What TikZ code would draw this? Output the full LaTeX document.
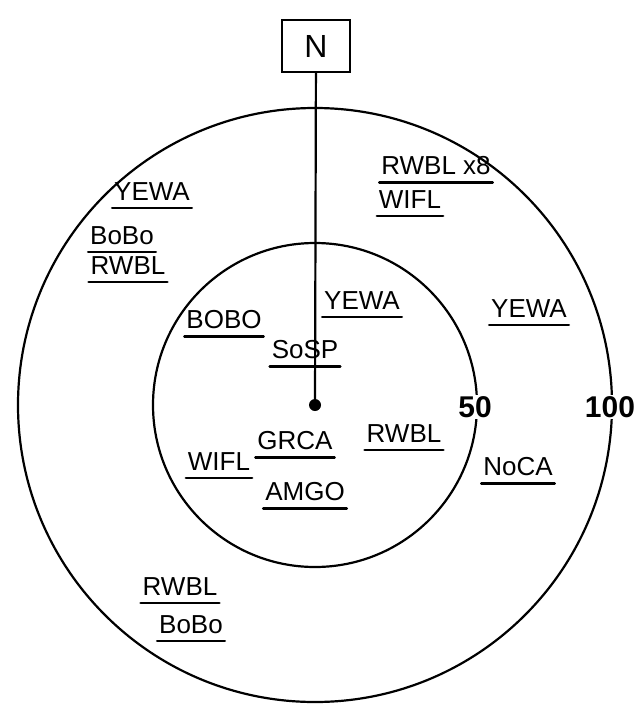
\documentclass[tikz,border=0pt]{standalone}
\usepackage{fontspec}
\setmainfont{Liberation Sans}
\usepackage{tikz}
\usetikzlibrary{positioning}

\begin{document}
\begin{tikzpicture}[x=1pt, y=-1pt, line width=2.2pt,
  especie/.style={inner sep=1pt, font=\fontsize{26}{28}\selectfont},
  distancia/.style={fill=white, inner sep=1pt, font=\fontsize{30}{32}\selectfont\bfseries},
  subraya/.style={line width=2.4pt, line cap=round}]
\useasboundingbox (0,0) rectangle (641,704);
% circulos de conteo
\coordinate (centro) at (315,405);
\draw (centro) circle[radius=297pt];
\draw (centro) circle[radius=162pt];
\fill (centro) circle[radius=6pt];
\node[draw, minimum width=68pt, minimum height=52pt, line width=2pt, font=\fontsize{32}{34}\selectfont] (norte) at (316,46) {N};
\draw (norte) -- (centro);
\node[distancia] (cincuenta) at (475,407) {50};
\node[distancia] (cien) at (610,407) {100};
% anillo exterior
\node[especie] (y1) at (152,192) {YEWA};
\node[especie] (b1) at (122,236) {BoBo};
\node[especie] (r1) at (128,266) {RWBL};
\node[especie] (r2) at (436,166) {RWBL x8};
\node[especie] (w1) at (410,200) {WIFL};
\node[especie] (y2) at (529,309) {YEWA};
\node[especie] (n1) at (518,467) {NoCA};
\node[especie] (r3) at (180,587) {RWBL};
\node[especie] (b2) at (191,625) {BoBo};
% anillo interior
\node[especie] (b3) at (224,320) {BOBO};
\node[especie] (y3) at (362,301) {YEWA};
\node[especie] (s1) at (305,350) {SoSP};
\node[especie] (w2) at (219,462) {WIFL};
\node[especie] (g1) at (295,441) {GRCA};
\node[especie] (r4) at (404,434) {RWBL};
\node[especie] (a1) at (305,492) {AMGO};
\foreach \n in {y1,b1,r1,r2,w1,y2,n1,r3,b2,b3,y3,s1,w2,g1,r4,a1}
  \draw[subraya] ([yshift=-5pt]\n.south west) -- ([yshift=-5pt]\n.south east);
\end{tikzpicture}
\end{document}
